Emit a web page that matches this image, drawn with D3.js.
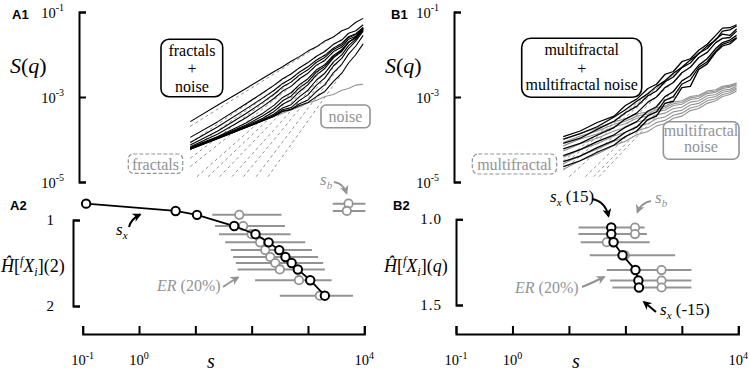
<!DOCTYPE html>
<html>
<head>
<meta charset="UTF-8">
<script src="https://d3js.org/d3.v7.min.js"></script>
<style>
  body { margin: 0; background: #fff; }
  svg { display: block; }
  svg text { font-family: "Liberation Serif", "Times New Roman", serif; }
  .plabel { font-family: "Liberation Sans", Arial, sans-serif; font-weight: bold; }
</style>
</head>
<body>
<svg id="fig" width="750" height="373"></svg>
<script>
// ---- top panels: log10 of scale s and log10 of S(q) ----
const logScaleA = [0.91, 1.4, 1.9, 2.2, 2.4, 2.55, 2.7, 2.85, 3.0, 3.15, 3.3, 3.45, 3.6, 3.72, 3.85, 3.98];
const noiseA = [-4.20, -3.95, -3.70, -3.55, -3.45, -3.38, -3.30, -3.23, -3.14, -3.08, -2.99, -2.94, -2.84, -2.80, -2.72, -2.70];
const mixA = [
  [-3.58, -3.19, -2.80, -2.56, -2.40, -2.29, -2.16, -2.05, -1.92, -1.82, -1.68, -1.59, -1.44, -1.38, -1.24, -1.15],
  [-3.95, -3.58, -3.16, -2.90, -2.72, -2.57, -2.46, -2.31, -2.19, -2.04, -1.93, -1.76, -1.66, -1.50, -1.44, -1.30],
  [-4.07, -3.70, -3.28, -3.02, -2.84, -2.68, -2.57, -2.41, -2.29, -2.13, -2.02, -1.85, -1.74, -1.58, -1.51, -1.36],
  [-4.13, -3.80, -3.39, -3.12, -2.93, -2.76, -2.65, -2.48, -2.36, -2.18, -2.07, -1.88, -1.78, -1.60, -1.53, -1.37],
  [-4.17, -3.87, -3.49, -3.22, -3.03, -2.86, -2.75, -2.57, -2.44, -2.25, -2.14, -1.93, -1.83, -1.64, -1.57, -1.40],
  [-4.19, -3.93, -3.61, -3.38, -3.19, -3.01, -2.90, -2.71, -2.57, -2.36, -2.24, -2.02, -1.89, -1.70, -1.61, -1.42],
  [-4.20, -3.94, -3.66, -3.44, -3.27, -3.09, -2.98, -2.78, -2.64, -2.41, -2.28, -2.05, -1.91, -1.71, -1.60, -1.40],
  [-4.21, -3.95, -3.68, -3.50, -3.34, -3.17, -3.07, -2.87, -2.71, -2.48, -2.33, -2.08, -1.93, -1.72, -1.58, -1.38],
  [-4.22, -3.96, -3.70, -3.53, -3.40, -3.26, -3.18, -2.99, -2.84, -2.60, -2.44, -2.18, -2.01, -1.79, -1.64, -1.43],
  [-4.22, -3.97, -3.71, -3.55, -3.43, -3.30, -3.25, -3.08, -2.95, -2.72, -2.55, -2.27, -2.09, -1.86, -1.68, -1.45],
  [-4.23, -3.97, -3.71, -3.55, -3.45, -3.33, -3.29, -3.16, -3.07, -2.87, -2.71, -2.43, -2.23, -1.99, -1.80, -1.55],
  [-4.23, -3.98, -3.72, -3.56, -3.45, -3.34, -3.30, -3.20, -3.13, -2.99, -2.87, -2.64, -2.44, -2.20, -2.00, -1.75]
];
// fractal power laws (dashed): start point and end point
const fracA_s0 = [0.91, 0.91, 0.91, 0.91, 0.91, 1.03, 1.226, 1.43, 1.65, 1.855, 2.08, 2.29];
const fracA_v0 = [-3.69, -4.08, -4.25, -4.44, -4.64, -4.875, -4.875, -4.875, -4.875, -4.875, -4.875, -4.875];
const fracA_s1 = 3.6;
const fracA_v1 = [-1.46, -1.64, -1.72, -1.75, -1.80, -1.87, -1.88, -1.90, -1.99, -2.07, -2.22, -2.45];

const logScaleB = [0.9, 1.2, 1.5, 1.8, 2.0, 2.2, 2.4, 2.55, 2.7, 2.85, 3.0, 3.15, 3.3, 3.45, 3.6, 3.72, 3.85, 3.97];
const mixB = [
  [-3.93, -3.80, -3.60, -3.45, -3.20, -3.05, -2.80, -2.70, -2.47, -2.40, -2.17, -2.10, -1.90, -1.76, -1.55, -1.38, -1.37, -1.30],
  [-3.99, -3.86, -3.70, -3.47, -3.30, -3.10, -2.92, -2.75, -2.62, -2.44, -2.30, -2.13, -1.98, -1.80, -1.66, -1.45, -1.42, -1.33],
  [-4.09, -3.97, -3.76, -3.57, -3.37, -3.22, -2.97, -2.86, -2.64, -2.53, -2.31, -2.20, -1.97, -1.86, -1.64, -1.52, -1.55, -1.40],
  [-4.22, -4.09, -3.90, -3.72, -3.52, -3.38, -3.12, -3.00, -2.78, -2.66, -2.43, -2.30, -2.07, -1.95, -1.72, -1.62, -1.60, -1.45],
  [-4.38, -4.24, -4.05, -3.89, -3.71, -3.58, -3.33, -3.23, -2.99, -2.87, -2.62, -2.50, -2.25, -2.10, -1.86, -1.72, -1.66, -1.55],
  [-4.52, -4.39, -4.19, -4.02, -3.83, -3.71, -3.44, -3.35, -3.08, -2.99, -2.70, -2.60, -2.30, -2.17, -1.92, -1.76, -1.70, -1.60],
  [-4.64, -4.50, -4.30, -4.13, -3.93, -3.80, -3.53, -3.45, -3.15, -3.10, -2.78, -2.75, -2.35, -2.22, -1.95, -1.80, -1.75, -1.62]
];
const noiseB = [
  [-4.00, -3.86, -3.73, -3.58, -3.52, -3.40, -3.35, -3.25, -3.22, -3.12, -3.09, -2.99, -2.96, -2.86, -2.83, -2.75, -2.72, -2.67],
  [-4.07, -3.92, -3.80, -3.64, -3.57, -3.45, -3.40, -3.29, -3.26, -3.16, -3.13, -3.02, -2.99, -2.89, -2.86, -2.77, -2.75, -2.69],
  [-4.15, -3.99, -3.87, -3.70, -3.63, -3.50, -3.45, -3.34, -3.31, -3.20, -3.17, -3.06, -3.03, -2.92, -2.89, -2.80, -2.77, -2.71],
  [-4.27, -4.10, -3.97, -3.80, -3.72, -3.59, -3.53, -3.42, -3.38, -3.27, -3.24, -3.12, -3.09, -2.97, -2.94, -2.84, -2.82, -2.75],
  [-4.42, -4.24, -4.10, -3.92, -3.83, -3.69, -3.63, -3.51, -3.47, -3.35, -3.31, -3.19, -3.15, -3.03, -2.99, -2.89, -2.86, -2.79],
  [-4.57, -4.38, -4.23, -4.04, -3.94, -3.80, -3.72, -3.60, -3.55, -3.43, -3.38, -3.26, -3.21, -3.09, -3.04, -2.94, -2.90, -2.82],
  [-4.70, -4.50, -4.34, -4.14, -4.04, -3.89, -3.81, -3.68, -3.63, -3.50, -3.45, -3.32, -3.27, -3.15, -3.09, -2.99, -2.94, -2.86]
];
const fracB_s0 = [0.9, 0.9, 0.9, 1.006, 1.292, 1.438, 1.532];
const fracB_v0 = [-4.505, -4.594, -4.724, -4.875, -4.875, -4.875, -4.875];
const fracB_s1 = 3.0;
const fracB_v1 = [-2.31, -2.31, -2.34, -2.46, -2.66, -2.76, -2.82];

// ---- bottom panels: crossover scale s_x, estimate H, s_b and error range ----
const sxA = [0.115, 4.47, 10.7, 49, 117, 200, 309, 398, 513, 661, 1096, 1995];
const hA = [0.81, 0.895, 0.94, 1.07, 1.165, 1.26, 1.35, 1.43, 1.50, 1.575, 1.70, 1.88];
const sbA = [5248, 4898, 60.3, 70.8, 100, 141, 174, 214, 263, 316, 692, 1622];
const erLowA = [2754, 2754, 20, 22.4, 26.3, 33.9, 42.7, 46.8, 52.5, 56.2, 115, 316];
const erHighA = [10471, 10471, 339, 389, 490, 891, 1175, 1514, 1862, 1995, 2630, 6310];

const sxB = [56.2, 56.2, 61.7, 89.1, 151, 170, 174];
const hB = [1.048, 1.086, 1.134, 1.21, 1.296, 1.357, 1.398];
const sbB = [148, 148, 46.8, 97.7, 437, 437, 437];
const erLowB = [14.8, 14.8, 16.2, 23.4, 46.8, 53.7, 58.9];
const erHighB = [219, 240, 269, 759, 1479, 1479, 1479];

const topTicks = [1e-1, 1e-3, 1e-5];
const topTickExp = ["-1", "-3", "-5"];
const sTicks = [0.1, 1, 10, 100, 1000, 10000];
const sLabelled = [0.1, 1, 10000];
const sLabelExp = ["-1", "0", "4"];

const GRAY = "#939393";
const svg = d3.select("#fig");

const defs = svg.append("defs");
[["headK", "#000"], ["headG", GRAY]].forEach(([id, c]) => {
  defs.append("marker").attr("id", id).attr("viewBox", "0 0 10 10")
    .attr("refX", 8).attr("refY", 5).attr("markerWidth", 9).attr("markerHeight", 9)
    .attr("markerUnits", "userSpaceOnUse").attr("orient", "auto")
    .append("path").attr("d", "M0,0 L10,5 L0,10 L3,5 Z").attr("fill", c);
});

const yTop = d3.scaleLog().domain([1e-1, 1e-5]).range([12, 182]);

function powText(x, y, exp, anchor) {
  const t = svg.append("text").attr("x", x).attr("y", y)
    .attr("text-anchor", anchor).attr("font-size", 14.5);
  t.append("tspan").text("10");
  t.append("tspan").attr("dy", -6.5).attr("font-size", 10).text(exp);
}

function styleAxis(g) {
  g.selectAll("text").remove();
  g.selectAll("path, line").attr("stroke", "#000").attr("stroke-width", 2);
}

function roundBox(x, y, w, h, r, color, dashed) {
  svg.append("rect").attr("x", x).attr("y", y).attr("width", w).attr("height", h)
    .attr("rx", r).attr("fill", "none").attr("stroke", color)
    .attr("stroke-width", dashed ? 1.2 : 1.6)
    .attr("stroke-dasharray", dashed ? "4,2" : null);
}

function centerText(x, y, str, color, size) {
  svg.append("text").attr("x", x).attr("y", y).attr("text-anchor", "middle")
    .attr("font-size", size || 16).attr("fill", color).text(str);
}

function drawTop(x, axisX, grid, mixes, noises, s0, v0, s1, v1, mixWidth) {
  const line = d3.line().x(d => x(10 ** d[0])).y(d => yTop(10 ** d[1]));
  // dashed fractal power laws
  svg.append("g").selectAll("path").data(s0).join("path")
    .attr("d", (d, i) => line([[d, v0[i]], [s1, v1[i]]]))
    .attr("fill", "none").attr("stroke", GRAY).attr("stroke-width", 1)
    .attr("stroke-dasharray", "3,3");
  // noise alone
  svg.append("g").selectAll("path").data(noises).join("path")
    .attr("d", row => line(row.map((v, j) => [grid[j], v])))
    .attr("fill", "none").attr("stroke", GRAY).attr("stroke-width", 1.1);
  // signal + noise
  svg.append("g").selectAll("path").data(mixes).join("path")
    .attr("d", row => line(row.map((v, j) => [grid[j], v])))
    .attr("fill", "none").attr("stroke", "#000").attr("stroke-width", mixWidth)
    .attr("stroke-linejoin", "round");

  const g = svg.append("g").attr("transform", `translate(${axisX},0)`)
    .call(d3.axisRight(yTop).tickValues(topTicks).tickSize(7).tickSizeOuter(7));
  styleAxis(g);
  topTicks.forEach((t, i) => powText(axisX - 15, yTop(t) + 5.5, topTickExp[i], "end"));

  const sq = svg.append("text").attr("x", axisX - 69).attr("y", 73).attr("font-size", 22);
  sq.append("tspan").attr("font-style", "italic").text("S");
  sq.append("tspan").text("(");
  sq.append("tspan").attr("font-style", "italic").text("q");
  sq.append("tspan").text(")");
}

function drawBottom(x, y, axisX, yTicks, yLabels, labelX, sx, h, sb, lo, hi, qLabel, sLabelX) {
  // error range bars
  svg.append("g").selectAll("line").data(h).join("line")
    .attr("x1", (d, i) => x(lo[i])).attr("x2", (d, i) => x(hi[i]))
    .attr("y1", d => y(d)).attr("y2", d => y(d))
    .attr("stroke", GRAY).attr("stroke-width", 2);
  svg.append("g").selectAll("circle").data(h).join("circle")
    .attr("cx", (d, i) => x(sb[i])).attr("cy", d => y(d)).attr("r", 4.2)
    .attr("fill", "#fff").attr("stroke", GRAY).attr("stroke-width", 1.8);
  svg.append("path")
    .attr("d", d3.line().x((d, i) => x(sx[i])).y(d => y(d))(h))
    .attr("fill", "none").attr("stroke", "#000").attr("stroke-width", 1.8);
  svg.append("g").selectAll("circle").data(h).join("circle")
    .attr("cx", (d, i) => x(sx[i])).attr("cy", d => y(d)).attr("r", 4.2)
    .attr("fill", "#fff").attr("stroke", "#000").attr("stroke-width", 2);

  const gy = svg.append("g").attr("transform", `translate(${axisX},0)`)
    .call(d3.axisRight(y).tickValues(yTicks).tickSize(7).tickSizeOuter(7));
  styleAxis(gy);
  yTicks.forEach((t, i) => svg.append("text").attr("x", labelX).attr("y", y(t) + 5)
    .attr("text-anchor", "end").attr("font-size", 15).attr("letter-spacing", yLabels[i].length > 1 ? 1 : 0)
    .text(yLabels[i]));

  const gx = svg.append("g").attr("transform", "translate(0,334)")
    .call(d3.axisTop(x).tickValues(sTicks).tickSize(8).tickSizeOuter(8));
  styleAxis(gx);
  sLabelled.forEach((t, i) => powText(x(t), 365, sLabelExp[i], "middle"));

  svg.append("text").attr("x", sLabelX).attr("y", 368).attr("font-size", 20)
    .attr("font-style", "italic").attr("text-anchor", "middle").text("s");

  // y title: H-hat[ fX_i ](q)
  const t = svg.append("text").attr("x", axisX - 72).attr("y", 272).attr("font-size", 18);
  t.append("tspan").attr("font-style", "italic").text("\u0124");
  t.append("tspan").text("[");
  t.append("tspan").attr("font-style", "italic").attr("font-size", 12).attr("dy", -7).text("f");
  t.append("tspan").attr("font-style", "italic").attr("dy", 7).text("X");
  t.append("tspan").attr("font-style", "italic").attr("font-size", 12).attr("dy", 4).text("i");
  t.append("tspan").attr("dy", -4).text("](");
  t.append("tspan").attr("font-style", qLabel === "q" ? "italic" : "normal").text(qLabel);
  t.append("tspan").text(")");
}

function subLabel(x, y, sub, rest, color) {
  const t = svg.append("text").attr("x", x).attr("y", y).attr("font-size", 17).attr("fill", color);
  t.append("tspan").attr("font-style", "italic").text("s");
  t.append("tspan").attr("font-style", "italic").attr("font-size", 11).attr("dy", 4).text(sub);
  if (rest) t.append("tspan").attr("dy", -4).text(rest);
}

function erLabel(x, y) {
  const t = svg.append("text").attr("x", x).attr("y", y).attr("font-size", 16).attr("fill", GRAY);
  t.append("tspan").attr("font-style", "italic").text("ER");
  t.append("tspan").text(" (20%)");
}

function arrow(d, color) {
  svg.append("path").attr("d", d).attr("fill", "none").attr("stroke", color)
    .attr("stroke-width", 2).attr("marker-end", `url(#${color === "#000" ? "headK" : "headG"})`);
}

// ---------------- panel A ----------------
const xA = d3.scaleLog().domain([0.1, 1e4]).range([82.7, 364.3]);
drawTop(xA, 79, logScaleA, mixA, [noiseA], fracA_s0, fracA_v0, fracA_s1, fracA_v1, 1.1);
roundBox(161, 39.3, 61.7, 57.4, 8, "#000", false);
centerText(192, 56, "fractals", "#000");
centerText(192, 74, "+", "#000");
centerText(192, 91.5, "noise", "#000");
roundBox(321, 105, 49, 22.7, 5, GRAY, false);
centerText(345.5, 121.5, "noise", GRAY);
roundBox(128.3, 154, 54.4, 19.3, 5, GRAY, true);
centerText(155.5, 169.5, "fractals", GRAY);

// ---------------- panel B ----------------
const xB = d3.scaleLog().domain([0.1, 1e4]).range([456, 738.3]);
drawTop(xB, 454, logScaleB, mixB, noiseB, fracB_s0, fracB_v0, fracB_s1, fracB_v1, 1.3);
roundBox(521.7, 38.3, 120, 59, 9, "#000", false);
centerText(581.7, 55, "multifractal", "#000");
centerText(581.7, 74, "+", "#000");
centerText(581.7, 90, "multifractal noise", "#000");
roundBox(663.3, 121.7, 75.7, 37.6, 6, GRAY, false);
centerText(701, 136, "multifractal", GRAY);
centerText(701, 152, "noise", GRAY);
roundBox(472.3, 154, 84.4, 20, 6, GRAY, true);
centerText(514.5, 170, "multifractal", GRAY);

const yA2 = d3.scaleLinear().domain([1, 2]).range([220, 306]);
drawBottom(xA, yA2, 73, [1, 2], ["1", "2"], 54, sxA, hA, sbA, erLowA, erHighA, "2", 211);
const yB2 = d3.scaleLinear().domain([1, 1.5]).range([219.3, 305]);
drawBottom(xB, yB2, 456, [1, 1.5], ["1.0", "1.5"], 442, sxB, hB, sbB, erLowB, erHighB, "q", 576);

// annotations
subLabel(116, 235, "x", null, "#000");
arrow("M129,227 Q131,219 140,214.5", "#000");
erLabel(157, 291);
arrow("M223,287 Q230,282 238,277.5", GRAY);
subLabel(320, 185, "b", null, GRAY);
arrow("M334,182 Q343,183 346.5,193", GRAY);

subLabel(550, 202, "x", " (15)", "#000");
arrow("M592,199 Q605,201 608.5,216", "#000");
subLabel(655, 203, "b", null, GRAY);
arrow("M651,201 Q641,203 637.5,212", GRAY);
erLabel(515, 293);
arrow("M582,287 Q592,283 604,277", GRAY);
subLabel(660, 315, "x", " (-15)", "#000");
arrow("M656,312 Q649,306 644,302", "#000");

// panel labels
[["A1", 12, 18.5], ["B1", 391, 18.5], ["A2", 10, 210], ["B2", 393, 210]].forEach(([s, x, y]) =>
  svg.append("text").attr("class", "plabel").attr("x", x).attr("y", y).attr("font-size", 13).text(s));
</script>
</body>
</html>
